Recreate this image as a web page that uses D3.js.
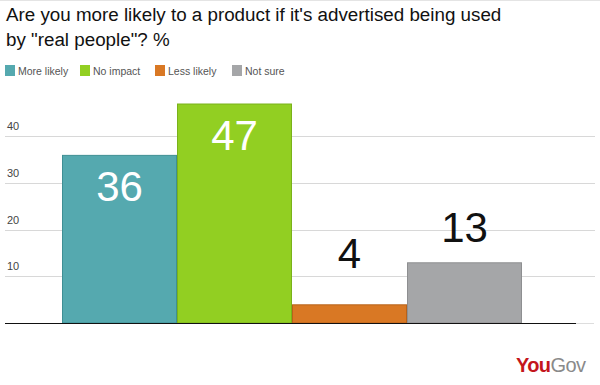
<!DOCTYPE html>
<html><head><meta charset="utf-8">
<script src="https://cdn.jsdelivr.net/npm/d3@7"></script>
<style>body{margin:0;background:#fff}svg{display:block;font-family:"Liberation Sans",Arial,sans-serif}</style>
</head><body>
<svg id="c" width="600" height="385"></svg>
<script>
const categories = ["More likely", "No impact", "Less likely", "Not sure"];
const values = [36, 47, 4, 13];
const colors = ["#55a9af", "#92cf22", "#d97824", "#a5a6a8"];
const strokes = ["#3f8f94", "#7ab21a", "#b8621a", "#8e8f91"];
const tickValues = [10, 20, 30, 40];
const titleLines = ["Are you more likely to a product if it's advertised being used", "by \"real people\"? %"];

const svg = d3.select("#c");
const y = d3.scaleLinear().domain([0, 10]).range([323, 276.3]);
const x = d3.scaleBand().domain(categories).range([62, 522]).padding(0);

svg.append("line").attr("x1",0).attr("x2",600).attr("y1",0.5).attr("y2",0.5).attr("stroke","#e4e4e4");

svg.selectAll("text.title").data(titleLines).join("text")
  .attr("x", 6).attr("y", (d,i)=>21+i*25).attr("font-size", 18.8).attr("fill","#111").text(d=>d);

const legX = [5, 80, 155, 232];
const leg = svg.selectAll("g.leg").data(categories).join("g").attr("transform",(d,i)=>`translate(${legX[i]},65)`);
leg.append("rect").attr("width",10).attr("height",11).attr("fill",(d,i)=>colors[i]);
leg.append("text").attr("x",13).attr("y",10).attr("font-size",10.5).attr("fill","#555").text(d=>d);

// gridlines
svg.selectAll("line.grid").data(tickValues).join("line")
  .attr("x1",5).attr("x2",595).attr("y1",d=>Math.round(y(d))+0.5).attr("y2",d=>Math.round(y(d))+0.5)
  .attr("stroke","#d8d8d8");
svg.selectAll("text.tick").data(tickValues).join("text")
  .attr("x",7).attr("y",d=>y(d)-6).attr("font-size",11).attr("fill","#444").text(d=>d);

svg.selectAll("rect.bar").data(values).join("rect")
  .attr("x",(d,i)=>x(categories[i])+0.5).attr("y",d=>y(d)+0.5)
  .attr("width",x.bandwidth()-1).attr("height",d=>y(0)-y(d)-0.5)
  .attr("fill",(d,i)=>colors[i]).attr("stroke",(d,i)=>strokes[i]);

svg.append("line").attr("x1",5).attr("x2",576).attr("y1",323.5).attr("y2",323.5).attr("stroke","#111").attr("stroke-width",1.2);
svg.append("line").attr("x1",576).attr("x2",594).attr("y1",323.5).attr("y2",323.5).attr("stroke","#ddd");

svg.selectAll("text.val").data(values).join("text")
  .attr("x",(d,i)=>x(categories[i])+x.bandwidth()/2)
  .attr("y",d=> d > 20 ? y(d)+46 : y(d)-(d < 10 ? 36 : 20))
  .attr("text-anchor","middle").attr("font-size",42)
  .attr("fill",d=> d > 20 ? "#fff" : "#111").text(d=>d);

const logo = svg.append("text").attr("x",516).attr("y",372).attr("font-size",20).attr("letter-spacing",-0.6);
logo.append("tspan").attr("fill","#c4161c").attr("font-weight","bold").text("You");
logo.append("tspan").attr("fill","#8a8a8a").text("Gov");
</script>
</body></html>
